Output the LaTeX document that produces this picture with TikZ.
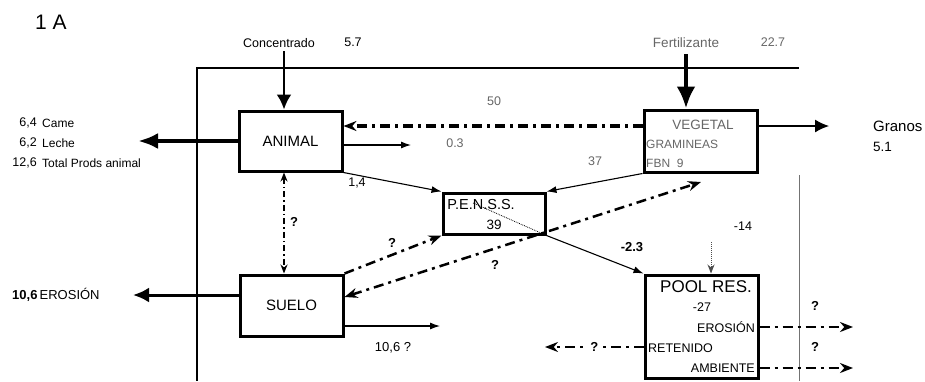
\documentclass[tikz,border=0pt]{standalone}
\usepackage{fontspec}
\setmainfont{Liberation Sans}
\usetikzlibrary{arrows.meta}
\newcommand{\fsz}[1]{\fontsize{#1}{#1}\selectfont}
\tikzset{
  box/.style={draw,line width=3pt},
  faded/.style={text=black!60},
  flow/.style={line width=1.1pt,-{Latex[length=10pt,width=7pt]}},
  bigflow/.style={line width=#1,-{Latex[length=20pt,width=16pt]}},
  dashdot/.style={line width=#1,dash pattern=on 10pt off 5pt on 3pt off 5pt},
  qmark/.style={font=\fsz{13}\bfseries},
}
\begin{document}
\begin{tikzpicture}[x=1pt,y=-1pt,inner sep=0pt,>={Stealth[length=13pt,width=10pt]}]
  \useasboundingbox (0,0) rectangle (925,381);
  \draw[line width=1.2pt] (196,68) -- (799,68);
  \draw[line width=1.2pt] (197,68) -- (197,381);
  \draw[line width=1pt,black!55] (799,175) -- (799,381);

  \node[box,minimum width=103pt,minimum height=60pt,font=\fsz{15}] (animal) at (290.5,141) {ANIMAL};
  \node[box,minimum width=113pt,minimum height=62pt] (vegetal) at (700.5,141) {};
  \node[box,minimum width=102pt,minimum height=41pt] (penss) at (494,213.5) {};
  \node[box,minimum width=103pt,minimum height=61pt,font=\fsz{15}] (suelo) at (291.5,305.5) {SUELO};
  \node[box,minimum width=113pt,minimum height=103pt] (pool) at (701.5,326.5) {};

  \node[font=\fsz{21}] (title) at (51,22) {1 A};
  \node[font=\fsz{12.5}] (lconc) at (279,43) {Concentrado};
  \node[font=\fsz{12.5}] (vconc) at (353,42) {5.7};
  \node[faded,font=\fsz{13.5}] (lfert) at (686,43) {Fertilizante};
  \node[faded,font=\fsz{12.5}] (vfert) at (773,42) {22.7};
  \node[anchor=east,font=\fsz{12.5}] (ncarne) at (37,123) {6,4};
  \node[anchor=west,font=\fsz{12}] (lcarne) at (42,123) {Came};
  \node[anchor=east,font=\fsz{12.5}] (nleche) at (37,143) {6,2};
  \node[anchor=west,font=\fsz{12}] (lleche) at (42,143) {Leche};
  \node[anchor=east,font=\fsz{12.5}] (ntotal) at (37,163) {12,6};
  \node[anchor=west,font=\fsz{12}] (ltotal) at (42,163) {Total Prods animal};
  \node[anchor=west,font=\fsz{13}] (lero) at (12,295) {\fsz{13}\bfseries 10,6\,\mdseries\fsz{13}EROSIÓN};
  \node[faded,font=\fsz{12.5}] (v50) at (494,101) {50};
  \node[faded,font=\fsz{12.5}] (v03) at (455,143) {0.3};
  \node[faded,font=\fsz{12.5}] (v37) at (595,161) {37};
  \node[anchor=west,font=\fsz{15}] (lgranos) at (873,126) {Granos};
  \node[anchor=west,font=\fsz{13.5}] (vgranos) at (873,147) {5.1};
  \node[font=\fsz{12.5}] (v14a) at (357,183) {1,4};
  \node[faded,font=\fsz{13.5}] (tveg) at (703,125) {VEGETAL};
  \node[faded,anchor=west,font=\fsz{12}] (tgram) at (646,144) {GRAMINEAS};
  \node[faded,anchor=west,font=\fsz{12}] (tfbn) at (646,163) {FBN\ \ 9};
  \node[font=\fsz{14.5}] (tpenss) at (481,205) {P.E.N.S.S.};
  \node[font=\fsz{13.5}] (v39) at (494,225) {39};
  \node[qmark] (qas) at (294,222) {?};
  \node[qmark] (qsp) at (392,243) {?};
  \node[qmark] (qlong) at (495,265) {?};
  \node[qmark] (v23) at (632,247) {-2.3};
  \node[font=\fsz{12.5}] (v14) at (743,226) {-14};
  \node[font=\fsz{17}] (tpool) at (706,287) {POOL RES.};
  \node[font=\fsz{12.5}] (v27) at (702,307) {-27};
  \node[anchor=east,font=\fsz{12.5}] (tero) at (755,327) {EROSIÓN};
  \node[anchor=west,font=\fsz{12.5}] (tret) at (648,348) {RETENIDO};
  \node[anchor=east,font=\fsz{12.5}] (tamb) at (755,368) {AMBIENTE};
  \node[qmark] (qero) at (815,306) {?};
  \node[qmark] (qamb) at (815,347) {?};
  \node[font=\fsz{13}] (v106) at (393,348) {10,6 ?};

  \coordinate (conc) at (284,51);
  \coordinate (fert) at (686,54);
  \coordinate (prod) at (138,141);
  \coordinate (ero) at (133,295);
  \coordinate (gra) at (829,126);
  \coordinate (y126) at (600,126);
  \coordinate (aout) at (411,145);
  \coordinate (sout) at (440,326);
  \coordinate (pdot) at (473,203);
  \coordinate (sq) at (343,297);
  \coordinate (vq) at (701,182);
  \coordinate (c14) at (711,242);
  \coordinate (pero) at (853,327);
  \coordinate (pamb) at (853,368);
  \coordinate (pret) at (545,347);

  \draw[line width=2.5pt,-{Latex[length=15pt,width=15pt]}] (conc) -- (conc |- animal.north);
  \draw[line width=4.5pt,-{Latex[length=22pt,width=19pt]}] (fert) -- (fert |- vegetal.north);
  \draw[bigflow=4pt] (animal.west) -- (prod);
  \draw[line width=3pt,-{Latex[length=16pt,width=15pt]}] (suelo.west |- ero) -- (ero);
  \draw[line width=1.3pt,-{Latex[length=14pt,width=13pt]}] (vegetal.east |- gra) -- (gra);
  \draw[dashdot=3.5pt,->] (vegetal.west |- y126) -- (animal.east |- y126);
  \draw[flow] (animal.east |- aout) -- (aout);
  \draw[flow] (animal.south east) -- (penss.north west);
  \draw[flow] (vegetal.south west) -- (penss.north east);
  \draw[flow] (penss.south east) -- (pool.north west);
  \draw[line width=0.8pt,densely dotted] (pdot) -- (penss.south east);
  \draw[line width=1.5pt,dash pattern=on 6pt off 3pt on 1.5pt off 3pt,{Stealth[length=9pt,width=7pt]}-{Stealth[length=9pt,width=7pt]}] (conc |- animal.south) -- (conc |- suelo.north);
  \draw[dashdot=2.5pt,->] (suelo.north east) -- (penss.south west);
  \draw[dashdot=2.5pt,<->] (suelo.east |- sq) -- (vq);
  \draw[flow] (suelo.east |- sout) -- (sout);
  \draw[line width=1pt,densely dotted,black!70,-{Stealth[length=9pt,width=7pt]}] (c14) -- (c14 |- pool.north);
  \draw[dashdot=2.5pt,->] (pool.east |- pero) -- (pero);
  \draw[dashdot=2.5pt,->] (pool.east |- pamb) -- (pamb);
  \draw[dashdot=2pt,->] (pool.west |- pret) -- node[qmark,fill=white,inner sep=2pt] (qret) {?} (pret);
\end{tikzpicture}
\end{document}
